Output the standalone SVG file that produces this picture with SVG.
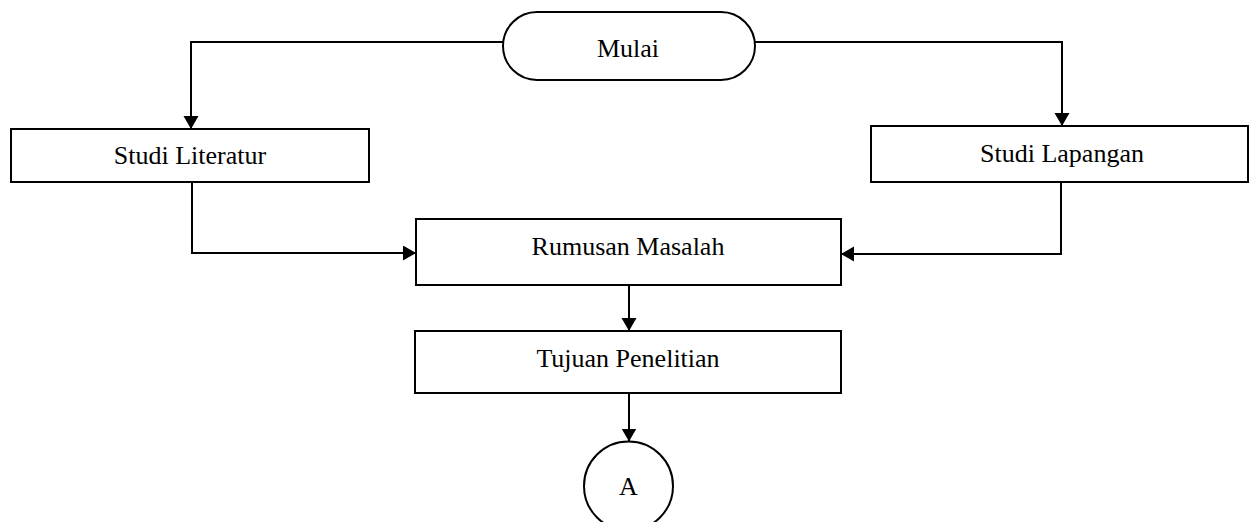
<svg xmlns="http://www.w3.org/2000/svg" width="1250" height="522" viewBox="0 0 1250 522">
<style>
.box{fill:#fff;stroke:#000;stroke-width:2}
.lbl{font-family:"Liberation Serif","Times New Roman",serif;font-size:26px;fill:#000;text-anchor:middle}
.con{fill:none;stroke:#000;stroke-width:2}
</style>
<defs>
<marker id="ah" markerUnits="userSpaceOnUse" markerWidth="14" markerHeight="16" refX="13" refY="7.5" orient="auto">
<path d="M0,0 L13,7.5 L0,15 z" fill="#000"/>
</marker>
</defs>
<rect width="1250" height="522" fill="#fff"/>
<g id="connectors">
<path class="con" d="M503,42 H191 V129" marker-end="url(#ah)"/>
<path class="con" d="M755,42 H1062 V126" marker-end="url(#ah)"/>
<path class="con" d="M192,182 V253 H416" marker-end="url(#ah)"/>
<path class="con" d="M1061,182 V254 H841" marker-end="url(#ah)"/>
<path class="con" d="M629,285 V331" marker-end="url(#ah)"/>
<path class="con" d="M629,393 V441.5" marker-end="url(#ah)"/>
</g>
<g id="mulai">
<rect class="box" x="503" y="12" width="252" height="68" rx="34" ry="34"/>
<text class="lbl" x="628" y="57">Mulai</text>
</g>
<g id="studi-literatur">
<rect class="box" x="11" y="129" width="358" height="53"/>
<text class="lbl" x="190" y="164">Studi Literatur</text>
</g>
<g id="studi-lapangan">
<rect class="box" x="871" y="126" width="377" height="56"/>
<text class="lbl" x="1062" y="162">Studi Lapangan</text>
</g>
<g id="rumusan-masalah">
<rect class="box" x="416" y="219" width="425" height="66"/>
<text class="lbl" x="628" y="255">Rumusan Masalah</text>
</g>
<g id="tujuan-penelitian">
<rect class="box" x="415" y="331" width="426" height="62"/>
<text class="lbl" x="628" y="367">Tujuan Penelitian</text>
</g>
<g id="connector-a">
<circle class="box" cx="628.5" cy="486" r="44.5"/>
<text class="lbl" x="628.5" y="495">A</text>
</g>
</svg>
